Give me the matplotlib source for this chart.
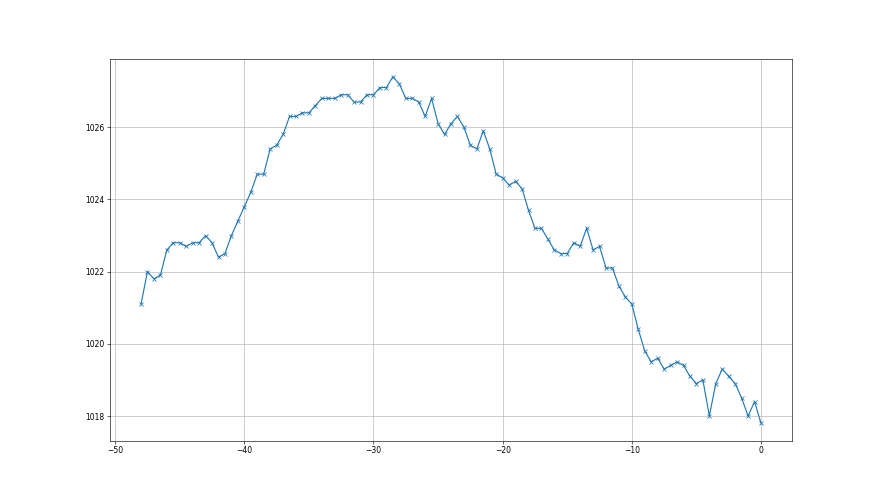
import matplotlib
matplotlib.use("Agg")
import matplotlib.pyplot as plt
import numpy as np

# hours relative to now, every half hour
hours = np.arange(-48, 0.01, 0.5)

pressure = [
    1021.1, 1022.0, 1021.8, 1021.9, 1022.6, 1022.8, 1022.8, 1022.7, 1022.8, 1022.8,
    1023.0, 1022.8, 1022.4, 1022.5, 1023.0, 1023.4, 1023.8, 1024.2, 1024.7, 1024.7,
    1025.4, 1025.5, 1025.8, 1026.3, 1026.3, 1026.4, 1026.4, 1026.6, 1026.8, 1026.8,
    1026.8, 1026.9, 1026.9, 1026.7, 1026.7, 1026.9, 1026.9, 1027.1, 1027.1, 1027.4,
    1027.2, 1026.8, 1026.8, 1026.7, 1026.3, 1026.8, 1026.1, 1025.8, 1026.1, 1026.3,
    1026.0, 1025.5, 1025.4, 1025.9, 1025.4, 1024.7, 1024.6, 1024.4, 1024.5, 1024.3,
    1023.7, 1023.2, 1023.2, 1022.9, 1022.6, 1022.5, 1022.5, 1022.8, 1022.7, 1023.2,
    1022.6, 1022.7, 1022.1, 1022.1, 1021.6, 1021.3, 1021.1, 1020.4, 1019.8, 1019.5,
    1019.6, 1019.3, 1019.4, 1019.5, 1019.4, 1019.1, 1018.9, 1019.0, 1018.0, 1018.9,
    1019.3, 1019.1, 1018.9, 1018.5, 1018.0, 1018.4, 1017.8,
]

fig, ax = plt.subplots(figsize=(16, 9), dpi=55)
ax.plot(hours, pressure, marker="x")
ax.grid(True)
fig.savefig("out.png", dpi=55)
